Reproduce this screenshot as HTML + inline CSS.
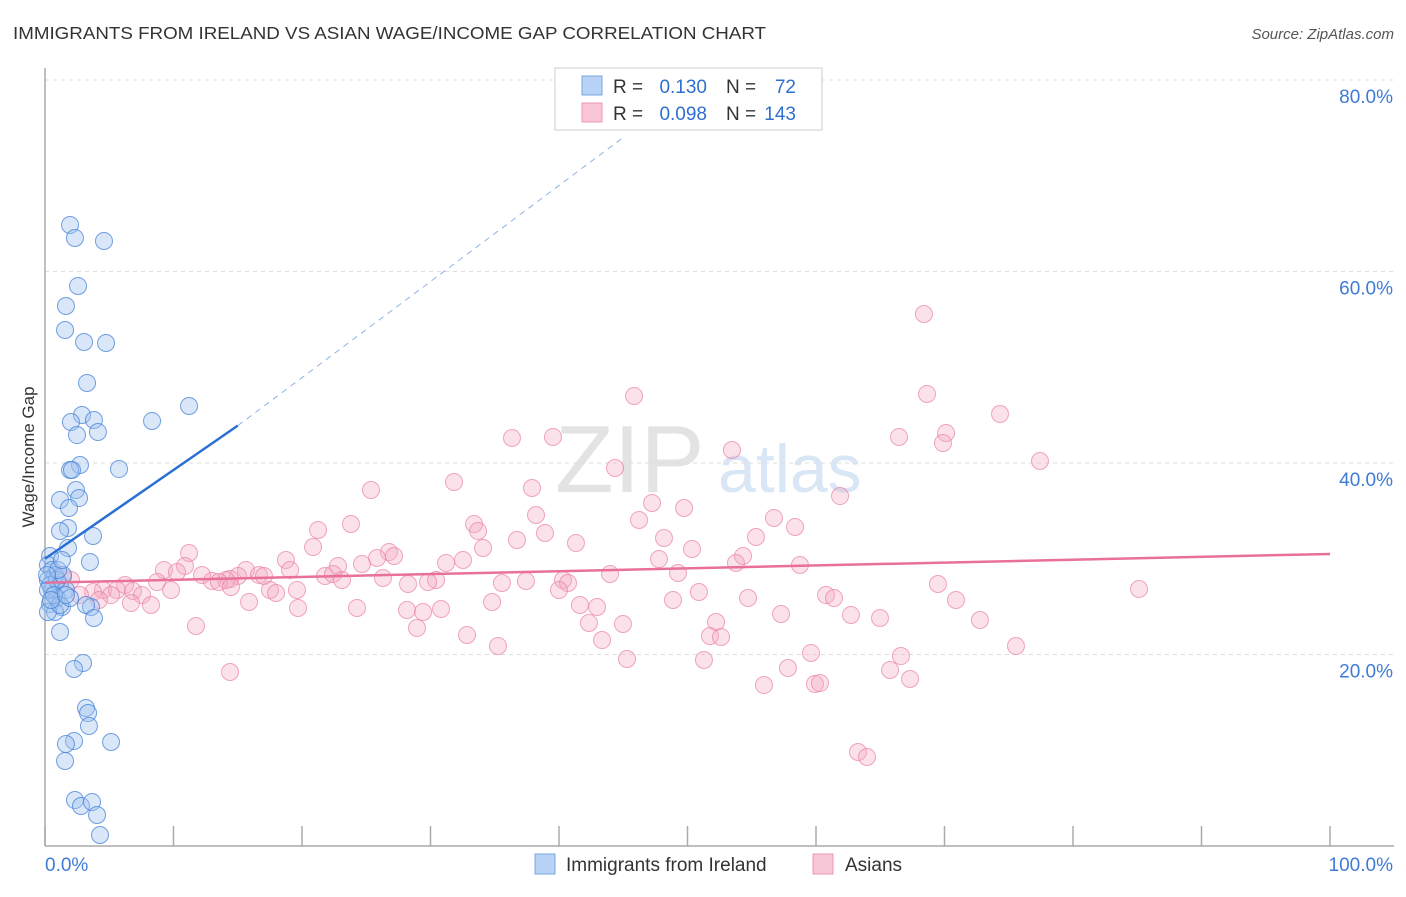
<!DOCTYPE html>
<html><head><meta charset="utf-8"><style>
body{margin:0;background:#fff;font-family:"Liberation Sans",sans-serif}
svg text{font-family:"Liberation Sans",sans-serif}
</style></head><body>
<svg id="chart" width="1406" height="892" viewBox="0 0 1406 892" xmlns="http://www.w3.org/2000/svg">
<text x="13" y="39" font-size="17.5" fill="#333" textLength="753" lengthAdjust="spacingAndGlyphs">IMMIGRANTS FROM IRELAND VS ASIAN WAGE/INCOME GAP CORRELATION CHART</text>
<text x="1394" y="39" font-size="15" fill="#555" text-anchor="end" font-style="italic">Source: ZipAtlas.com</text>
<text transform="translate(34,457) rotate(-90)" font-size="17" fill="#333" text-anchor="middle">Wage/Income Gap</text>
<text x="555" y="492" font-size="96" fill="#ddd" font-family="Liberation Serif" opacity="0.8">ZIP</text>
<text x="718" y="492" font-size="68" fill="#cfe0f4" opacity="0.8">atlas</text>
<g id="grid"></g><g id="pts"></g><g id="lines"></g>
<g>
<rect x="555" y="68" width="267" height="62" fill="#fff" stroke="#ccc"/>
<rect x="582" y="76" width="20" height="19" fill="#b8d3f5" stroke="#7aa7e0"/>
<rect x="582" y="103" width="20" height="19" fill="#f8c6d6" stroke="#ea98b4"/>
<text x="613" y="93" font-size="19" fill="#333">R =</text>
<text x="707" y="93" font-size="19" fill="#2f6fd0" text-anchor="end">0.130</text>
<text x="726" y="93" font-size="19" fill="#333">N =</text>
<text x="796" y="93" font-size="19" fill="#2f6fd0" text-anchor="end">72</text>
<text x="613" y="120" font-size="19" fill="#333">R =</text>
<text x="707" y="120" font-size="19" fill="#2f6fd0" text-anchor="end">0.098</text>
<text x="726" y="120" font-size="19" fill="#333">N =</text>
<text x="796" y="120" font-size="19" fill="#2f6fd0" text-anchor="end">143</text>
</g>
<g>
<rect x="535" y="854" width="20" height="20" fill="#b8d3f5" stroke="#7aa7e0"/>
<text x="566" y="871" font-size="19" fill="#333">Immigrants from Ireland</text>
<rect x="813" y="854" width="20" height="20" fill="#f8c6d6" stroke="#ea98b4"/>
<text x="845" y="871" font-size="19" fill="#333">Asians</text>
</g>
</svg>
<script>
const xTicks=[0,10,20,30,40,50,60,70,80,90,100];
const yTicks=[20,40,60,80];
const bluePx=[[70,225],[75,238],[104,241],[78,286],[66,306],[65,330],[84,342],[106,343],[87,383],[189,406],[152,421],[82,415],[94,420],[71,422],[98,432],[77,435],[80,465],[70,470],[72,470],[119,469],[76,490],[79,498],[60,500],[69,508],[68,528],[60,531],[93,536],[68,548],[90,562],[50,556],[48,565],[52,570],[55,575],[48,580],[60,585],[52,590],[66,590],[57,598],[50,604],[62,607],[91,607],[86,605],[55,612],[48,612],[94,618],[60,632],[83,663],[74,669],[86,708],[88,713],[89,726],[74,741],[66,744],[111,742],[65,761],[75,800],[81,806],[92,802],[97,815],[100,835],[50,585],[57,580],[63,575],[48,590],[54,595],[60,605],[70,598],[58,570],[47,575],[51,600],[62,560],[66,595]];
const pinkPx=[[924,314],[634,396],[927,394],[1000,414],[512,438],[553,437],[946,433],[899,437],[943,443],[732,450],[1040,461],[615,468],[454,482],[371,490],[532,488],[840,496],[652,503],[684,508],[536,515],[774,518],[639,520],[351,524],[474,524],[318,530],[478,531],[795,527],[545,533],[756,537],[517,540],[664,538],[576,543],[313,547],[483,548],[189,553],[692,549],[743,556],[389,552],[659,559],[394,556],[377,558],[463,560],[286,560],[446,563],[736,563],[362,564],[185,566],[338,566],[164,570],[800,565],[177,572],[290,570],[246,570],[610,574],[678,573],[259,575],[202,575],[238,576],[264,576],[325,576],[333,574],[342,580],[383,578],[230,579],[226,580],[212,581],[219,582],[157,582],[71,580],[63,577],[125,585],[103,590],[117,590],[93,592],[133,591],[563,580],[526,581],[502,583],[408,584],[436,580],[428,582],[938,584],[568,583],[171,590],[231,587],[270,590],[276,593],[297,590],[111,595],[142,595],[80,595],[559,590],[699,592],[826,595],[834,598],[748,598],[99,600],[131,603],[151,605],[249,602],[492,602],[673,600],[956,600],[580,605],[597,607],[298,608],[357,608],[441,609],[407,610],[423,612],[781,614],[851,615],[880,618],[980,620],[196,626],[417,628],[716,622],[589,623],[623,624],[467,635],[710,636],[721,637],[602,640],[498,646],[1016,646],[811,653],[901,656],[627,659],[704,660],[788,668],[890,670],[230,672],[910,679],[764,685],[815,684],[820,683],[858,752],[867,757],[1139,589]];
const blueX=bluePx.map(p=>+((p[0]-45)/12.85).toFixed(2));
const blueY=bluePx.map(p=>+((846-p[1])/9.575).toFixed(2));
const pinkX=pinkPx.map(p=>+((p[0]-45)/12.85).toFixed(2));
const pinkY=pinkPx.map(p=>+((846-p[1])/9.575).toFixed(2));
const blueTrend=[[0,30.0],[15,43.9],[45,74]];
const pinkTrend=[[0,27.5],[100,30.5]];
const NS='http://www.w3.org/2000/svg';
const sx=v=>45+v*12.85, sy=v=>846-v*9.575;
function mk(t,a,parent){const e=document.createElementNS(NS,t);for(const k in a)e.setAttribute(k,a[k]);parent.appendChild(e);return e;}
const grid=document.getElementById('grid');
yTicks.forEach(v=>{
 const l=mk('line',{x1:45,x2:1394,y1:sy(v),y2:sy(v),stroke:'#ddd','stroke-dasharray':'4,4'},grid);
 
 
 const t=mk('text',{x:1393,y:sy(v)+23,'font-size':19,fill:'#3f7bd6','text-anchor':'end'},grid);
 t.textContent=v.toFixed(1)+'%';
 
 
});
mk('line',{x1:45,x2:45,y1:68,y2:846,stroke:'#aaa','stroke-width':1.5},grid);
mk('line',{x1:45,x2:1394,y1:846,y2:846,stroke:'#aaa','stroke-width':1.5},grid);
xTicks.forEach(v=>{
 const l=mk('line',{x1:sx(v),x2:sx(v),y1:826,y2:846,stroke:'#aaa','stroke-width':1.5},grid);
 
 
});
[[0,'0.0%','start',45],[100,'100.0%','end',1393]].forEach(d=>{
 const t=mk('text',{x:d[3],y:871,'font-size':19,fill:'#3f7bd6','text-anchor':d[2]},grid);
 t.textContent=d[1];
 
 
});
const pts=document.getElementById('pts');
pinkX.forEach((x,i)=>{
 const c=mk('circle',{cx:sx(x),cy:sy(pinkY[i]),r:8.5,fill:'rgba(244,170,195,0.35)',stroke:'rgba(234,130,165,0.7)','stroke-width':1},pts);
 
 
});
blueX.forEach((x,i)=>{
 const c=mk('circle',{cx:sx(x),cy:sy(blueY[i]),r:8.5,fill:'rgba(160,195,240,0.4)',stroke:'rgba(70,130,215,0.75)','stroke-width':1},pts);
 
 
});
const lines=document.getElementById('lines');
const b1=mk('line',{x1:sx(blueTrend[0][0]),y1:sy(blueTrend[0][1]),x2:sx(blueTrend[1][0]),y2:sy(blueTrend[1][1]),stroke:'#2a6fd4','stroke-width':2.5},lines);


const b2=mk('line',{x1:sx(blueTrend[1][0]),y1:sy(blueTrend[1][1]),x2:sx(blueTrend[2][0]),y2:sy(blueTrend[2][1]),stroke:'#8fb2e6','stroke-width':1,'stroke-dasharray':'6,5'},lines);


const p1=mk('line',{x1:sx(pinkTrend[0][0]),y1:sy(pinkTrend[0][1]),x2:sx(pinkTrend[1][0]),y2:sy(pinkTrend[1][1]),stroke:'#e8709a','stroke-width':2.5},lines);


</script>
</body></html>
